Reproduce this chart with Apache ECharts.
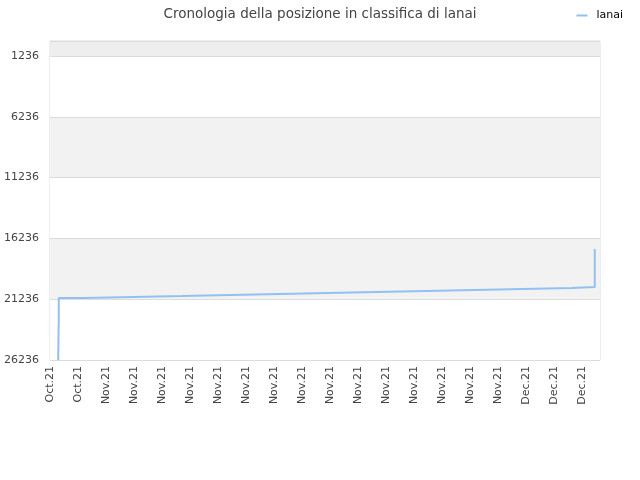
<!DOCTYPE html>
<html>
<head>
<meta charset="utf-8">
<script src="https://cdn.jsdelivr.net/npm/echarts@6/dist/echarts.min.js"></script>
<style>
  html, body { margin: 0; padding: 0; background: #fff; }
  #main { width: 640px; height: 480px; }
</style>
</head>
<body>
<div id="main"></div>
<script>
// ore dall'inizio (29 ott 2021) e posizione in classifica
var hours = [14, 15, 15, 58, 142, 226, 310, 394, 476, 560, 644, 728, 810, 894, 934, 934, 934];
var ranks = [26236, 22947, 21138, 21056, 20974, 20891, 20809, 20727, 20645, 20563, 20480, 20398, 20316, 20234, 19247, 18506, 17108];

// etichette asse x (una ogni 48 ore)
var xLabels = ['Oct.21', 'Oct.21', 'Nov.21', 'Nov.21', 'Nov.21', 'Nov.21', 'Nov.21', 'Nov.21', 'Nov.21', 'Nov.21',
  'Nov.21', 'Nov.21', 'Nov.21', 'Nov.21', 'Nov.21', 'Nov.21', 'Nov.21', 'Dec.21', 'Dec.21', 'Dec.21'];
// etichette asse y
var yTicks = [1236, 6236, 11236, 16236, 21236, 26236];
var yMin = 1;

var chart = echarts.init(document.getElementById('main'));

var points = hours.map(function (h, i) { return [h, ranks[i]]; });

var option = {
  animation: false,
  textStyle: { fontFamily: 'DejaVu Sans' },
  title: {
    text: 'Cronologia della posizione in classifica di lanai',
    left: 'center',
    top: 2,
    textStyle: { fontSize: 13.5, fontWeight: 'normal', color: '#444', fontFamily: 'DejaVu Sans' }
  },
  legend: {
    right: 12,
    top: 5,
    icon: 'rect',
    itemWidth: 11,
    itemHeight: 2,
    textStyle: { fontSize: 11, color: '#000', fontFamily: 'DejaVu Sans', padding: [0, 0, 0, 4] },
    data: ['lanai']
  },
  grid: {
    left: 50,
    right: 40,
    top: 41,
    bottom: 120,
    show: true,
    borderColor: '#dddddd',
    borderWidth: 1,
    containLabel: false,
    outerBoundsMode: 'none'
  },
  xAxis: {
    type: 'value',
    min: 0,
    max: 943,
    interval: 48,
    axisLine: { show: false },
    axisTick: { show: false },
    splitLine: { show: false },
    axisLabel: {
      rotate: 90,
      fontSize: 11,
      color: '#444',
      margin: 6,
      showMaxLabel: false,
      formatter: function (v) {
        var i = Math.round(v / 48);
        return xLabels[i] || '';
      }
    }
  },
  yAxis: {
    type: 'value',
    inverse: true,
    min: yMin,
    max: 26236,
    axisLine: { show: false },
    axisTick: { show: false, customValues: [yMin].concat(yTicks) },
    axisLabel: {
      fontSize: 11,
      color: '#444',
      margin: 11,
      customValues: yTicks,
      formatter: function (v) { return String(v); }
    },
    splitLine: { show: true, lineStyle: { color: '#dddddd', width: 1 } },
    splitArea: {
      show: true,
      areaStyle: { color: ['#eeeeee', '#ffffff', '#f2f2f2', '#ffffff', '#f2f2f2', '#ffffff'] }
    }
  },
  series: [{
    name: 'lanai',
    type: 'line',
    step: 'end',
    showSymbol: false,
    symbol: 'none',
    data: points,
    itemStyle: { color: '#92c1f1' },
    lineStyle: { color: '#92c1f1', width: 2 }
  }]
};

chart.setOption(option);
</script>
</body>
</html>
